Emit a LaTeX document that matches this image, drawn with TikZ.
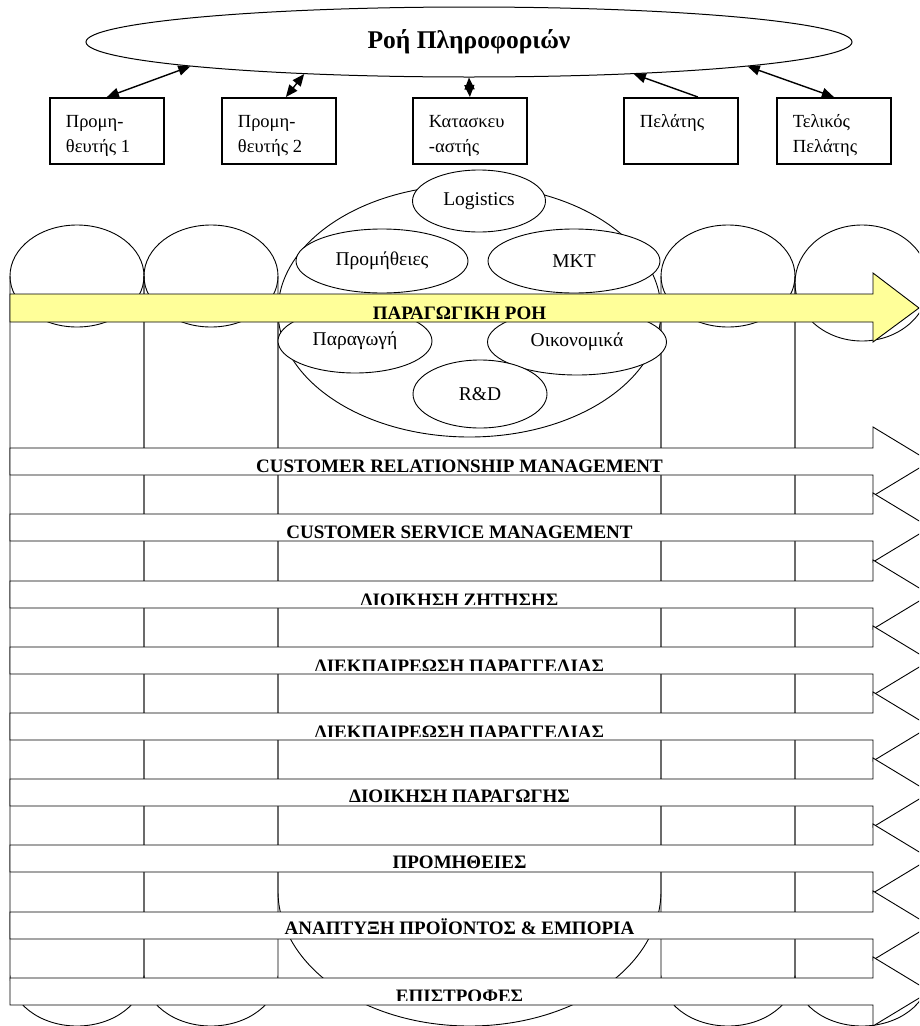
\documentclass[tikz,border=0pt]{standalone}
\usepackage{fontspec}
\setmainfont{Liberation Serif}
\usetikzlibrary{arrows.meta, shapes.geometric}
\definecolor{flowyellow}{HTML}{FFFF99}
\newcommand{\boxlines}[1]{\parbox[c][66pt][t]{114pt}{\raggedright\leftskip=16pt\vspace*{17pt}#1}}
\tikzset{%
  partner/.style={draw, line width=1.8pt, inner sep=0pt, anchor=north west, font=\fontsize{18.5}{25}\selectfont},
  infoflow/.style={draw, ellipse, line width=1pt, minimum width=766pt, minimum height=70pt, inner sep=0pt,
    font=\bfseries\fontsize{25.5}{30}\selectfont},
  dept/.style={draw, ellipse, fill=white, line width=0.9pt, inner sep=0pt, font=\fontsize{19.5}{23}\selectfont},
  pipe/.style={line width=0.9pt},
  process/.style={draw, fill=white, line width=0.9pt},
  prodflow/.style={draw, fill=flowyellow, line width=0.9pt},
  proclabel/.style={anchor=base, inner sep=0pt, font=\bfseries\fontsize{19}{22}\selectfont},
  link/.style={{Triangle[length=12pt,width=10pt]}-{Triangle[length=12pt,width=10pt]}, line width=1.4pt},
  oneway/.style={-{Triangle[length=12pt,width=10pt]}, line width=1.4pt}
}

\begin{document}
\begin{tikzpicture}[x=1pt, y=-1pt]
  \useasboundingbox (0,0) rectangle (919,1026);
  \clip (0,0) rectangle (919,1026);

  % the five columns of the chain
  \draw[pipe] (77,276) ellipse [x radius=67, y radius=51];
  \draw[pipe] (10,276) -- (10,975) arc [start angle=180, end angle=0, x radius=67, y radius=51] -- (144,276);
  \draw[pipe] (211,276) ellipse [x radius=67, y radius=51];
  \draw[pipe] (144,276) -- (144,975) arc [start angle=180, end angle=0, x radius=67, y radius=51] -- (278,276);
  \draw[pipe] (469.5,311) ellipse [x radius=191.5, y radius=126];
  \draw[pipe] (278,311) -- (278,891) arc [start angle=180, end angle=0, x radius=191.5, y radius=135] -- (661,311);
  \draw[pipe] (728,276) ellipse [x radius=67, y radius=51];
  \draw[pipe] (661,276) -- (661,975) arc [start angle=180, end angle=0, x radius=67, y radius=51] -- (795,276);
  \draw[pipe] (862,283) ellipse [x radius=67, y radius=58];
  \draw[pipe] (795,283) -- (795,975) arc [start angle=180, end angle=0, x radius=67, y radius=51] -- (929,283);

  % functions of the manufacturer
  \node[dept, minimum width=133pt, minimum height=62pt] (logi) at (479,201) {Logistics};
  \node[dept, minimum width=172pt, minimum height=64pt] (prom) at (382,261) {Προμήθειες};
  \node[dept, minimum width=172pt, minimum height=64pt] (mkt) at (574,261) {MKT};
  \node[dept, minimum width=154pt, minimum height=64pt] (para) at (355,341) {Παραγωγή};
  \node[dept, minimum width=179pt, minimum height=66pt] (oiko) at (577,342) {Οικονομικά};
  \node[dept, minimum width=134pt, minimum height=68pt] (rnd) at (480,394) {R\&D};

  % product flow
  \draw[prodflow] (10,294) -- (873,294) -- (873,273) -- (919,308) -- (873,342) -- (873,322) -- (10,322) -- cycle;
  \node[proclabel] (prod) at (459.5,319) {ΠΑΡΑΓΩΓΙΚΗ ΡΟΗ};

  % business processes
  \draw[process] (10,448) -- (873,448) -- (873,427) -- (930,461.5) -- (873,496) -- (873,475) -- (10,475) -- cycle;
  \node[proclabel] (crm) at (459.5,472.5) {CUSTOMER RELATIONSHIP MANAGEMENT};

  \draw[process] (10,514) -- (873,514) -- (873,493) -- (930,527.5) -- (873,562) -- (873,541) -- (10,541) -- cycle;
  \node[proclabel] (csm) at (459.5,538.5) {CUSTOMER SERVICE MANAGEMENT};

  \draw[process] (10,581) -- (873,581) -- (873,560) -- (930,594.5) -- (873,629) -- (873,608) -- (10,608) -- cycle;
  \begin{scope}
    \clip (10,581) rectangle (873,604);
    \node[proclabel] (zit) at (459.5,606.5) {ΔΙΟΙΚΗΣΗ ΖΗΤΗΣΗΣ};
  \end{scope}

  \draw[process] (10,647) -- (873,647) -- (873,626) -- (930,660.5) -- (873,695) -- (873,674) -- (10,674) -- cycle;
  \begin{scope}
    \clip (10,647) rectangle (873,670);
    \node[proclabel] (par1) at (459.5,672.5) {ΔΙΕΚΠΑΙΡΕΩΣΗ ΠΑΡΑΓΓΕΛΙΑΣ};
  \end{scope}

  \draw[process] (10,713) -- (873,713) -- (873,692) -- (930,726.5) -- (873,761) -- (873,740) -- (10,740) -- cycle;
  \begin{scope}
    \clip (10,713) rectangle (873,736);
    \node[proclabel] (par2) at (459.5,738.5) {ΔΙΕΚΠΑΙΡΕΩΣΗ ΠΑΡΑΓΓΕΛΙΑΣ};
  \end{scope}

  \draw[process] (10,779) -- (873,779) -- (873,758) -- (930,792.5) -- (873,827) -- (873,806) -- (10,806) -- cycle;
  \node[proclabel] (dpar) at (459.5,802.5) {ΔΙΟΙΚΗΣΗ ΠΑΡΑΓΩΓΗΣ};

  \draw[process] (10,845) -- (873,845) -- (873,824) -- (930,858.5) -- (873,893) -- (873,872) -- (10,872) -- cycle;
  \node[proclabel] (prmt) at (459.5,868.5) {ΠΡΟΜΗΘΕΙΕΣ};

  \draw[process] (10,912) -- (873,912) -- (873,891) -- (930,925.5) -- (873,960) -- (873,939) -- (10,939) -- cycle;
  \node[proclabel] (anap) at (459.5,934.5) {ΑΝΑΠΤΥΞΗ ΠΡΟΪΟΝΤΟΣ \& ΕΜΠΟΡΙΑ};

  \draw[process] (10,978) -- (873,978) -- (873,957) -- (930,991.5) -- (873,1026) -- (873,1005) -- (10,1005) -- cycle;
  \begin{scope}
    \clip (10,978) rectangle (873,1000);
    \node[proclabel] (epis) at (459.5,1002.5) {ΕΠΙΣΤΡΟΦΕΣ};
  \end{scope}

  % information flow
  \node[infoflow] (info) at (469,42) {Ροή Πληροφοριών};
  \node[partner] (sup1) at (49,97) {\boxlines{Προμη-\\θευτής 1}};
  \node[partner] (sup2) at (221,97) {\boxlines{Προμη-\\θευτής 2}};
  \node[partner] (mfr) at (412,97) {\boxlines{Κατασκευ\\-αστής}};
  \node[partner] (cust) at (623,97) {\boxlines{Πελάτης}};
  \node[partner] (endc) at (776,97) {\boxlines{Τελικός\\Πελάτης}};

  \draw[link] (sup1.north) -- (info.185.2);
  \draw[link] ([xshift=7pt]sup2.north) -- (info.191.6);
  \draw[link] (mfr.north) -- (info.south);
  \draw[oneway] ([xshift=17pt]cust.north) -- (info.349.8);
  \draw[link] (endc.north) -- (info.355);
\end{tikzpicture}
\end{document}
